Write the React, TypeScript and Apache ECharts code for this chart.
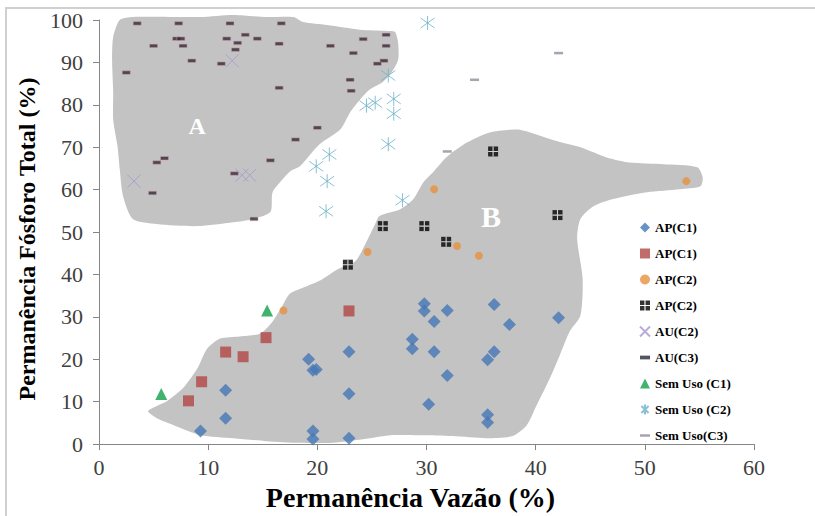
import React, { useEffect, useRef } from "react";
import * as echarts from "echarts";

// ---- data (x = Permanência Vazão %, y = Permanência Fósforo Total %) ----
const apC1Diamond: number[][] = [
  [9.3, 3.1], [11.6, 6.1], [11.6, 12.7], [19.2, 20.0], [19.6, 17.4], [19.9, 17.6],
  [22.9, 21.8], [22.9, 11.9], [19.6, 3.1], [19.6, 1.2], [22.9, 1.4], [29.8, 33.1],
  [29.8, 31.4], [31.9, 31.5], [30.7, 28.9], [36.2, 32.9], [37.6, 28.2], [42.1, 29.8],
  [28.7, 24.7], [28.7, 22.5], [30.7, 21.8], [36.2, 21.8], [35.6, 19.9], [31.9, 16.2],
  [30.2, 9.4], [35.6, 6.9], [35.6, 5.1],
];
const apC1Square: number[][] = [
  [8.2, 10.2], [9.4, 14.7], [11.6, 21.7], [13.2, 20.6], [15.3, 25.1], [22.9, 31.4],
];
const apC2Circle: number[][] = [
  [16.9, 31.5], [24.6, 45.3], [30.7, 60.1], [32.8, 46.7], [34.8, 44.4], [53.8, 62.0],
];
const apC2Black: number[][] = [
  [36.1, 69.0], [42.0, 54.0], [26.0, 51.4], [29.8, 51.4], [31.8, 47.7], [22.8, 42.3],
];
const auC2: number[][] = [[12.2, 90.4], [3.2, 62.0], [13.1, 63.4], [13.8, 63.4]];
const auC3: number[][] = [
  [3.5, 99.2], [7.3, 99.2], [12.0, 99.2], [16.7, 99.2], [7.1, 95.6], [7.5, 95.6],
  [11.7, 95.6], [13.4, 96.5], [14.5, 95.6], [12.7, 94.6], [16.5, 94.4], [5.0, 93.9],
  [7.7, 93.9], [12.5, 93.0], [8.5, 90.4], [11.2, 89.7], [2.5, 87.6], [16.5, 84.0],
  [18.0, 71.8], [6.0, 67.4], [5.3, 66.4], [15.7, 66.9], [12.4, 63.8], [4.9, 59.2],
  [14.2, 53.1], [21.2, 93.9], [23.3, 92.2], [24.2, 95.5], [26.3, 96.5], [26.3, 93.9],
  [26.1, 90.4], [25.5, 89.7], [23.0, 85.9], [23.1, 83.3], [20.0, 74.6],
];
const semC1: number[][] = [[5.7, 11.8], [15.4, 31.5]];
const semC2: number[][] = [
  [30.1, 99.3], [26.5, 86.9], [27.0, 81.4], [27.0, 77.9], [26.5, 70.7], [27.8, 57.5],
  [24.5, 79.8], [25.3, 80.5], [19.9, 65.5], [21.1, 68.3], [20.9, 62.0], [20.8, 54.9],
];
const semC3: number[][] = [[42.1, 92.2], [34.4, 85.9], [31.9, 69.0]];

// outlines of the shaded groups (data coordinates)
const blobA: number[][] = [
  [1.9, 100.0], [3.1, 100.7], [9.3, 100.7], [12.3, 101.2], [15.4, 100.7], [17.8, 100.7],
  [18.7, 99.5], [20.9, 98.8], [23.9, 97.7], [26.4, 97.4], [27.1, 97.2], [27.4, 94.6],
  [27.4, 90.6], [26.8, 87.6], [26.0, 85.4], [24.8, 83.6], [23.9, 81.2], [23.0, 78.2],
  [22.1, 74.2], [20.2, 70.7], [18.4, 65.5], [17.5, 64.3], [16.8, 62.4], [15.9, 59.4],
  [15.7, 54.7], [14.1, 53.1], [12.3, 52.3], [9.0, 51.4], [5.3, 51.9], [3.1, 53.1],
  [2.2, 58.5], [1.9, 64.8], [1.7, 70.2], [1.3, 76.5], [1.3, 82.9], [1.2, 90.6], [1.3, 96.0],
];
const blobB: number[][] = [
  [4.5, 7.8], [6.2, 10.1], [7.7, 13.2], [9.0, 17.8], [9.9, 22.5], [11.1, 24.9],
  [12.9, 25.4], [14.8, 26.1], [15.9, 28.9], [16.8, 32.6], [17.5, 35.5], [19.1, 37.3],
  [20.2, 38.5], [21.9, 41.3], [23.5, 43.2], [24.4, 47.2], [25.3, 51.9], [25.7, 53.8],
  [27.6, 55.4], [28.8, 57.8], [29.7, 61.7], [30.6, 64.1], [31.9, 67.8], [33.7, 71.1],
  [35.8, 73.5], [38.3, 74.2], [39.5, 73.5], [42.0, 71.4], [44.1, 70.0], [45.3, 68.8],
  [46.5, 67.6], [48.6, 66.4], [51.7, 66.0], [54.8, 65.3], [55.3, 62.9], [55.1, 60.8],
  [53.2, 60.1], [50.2, 59.4], [47.1, 57.8], [45.3, 56.1], [44.1, 53.1], [43.8, 48.4],
  [44.3, 39.0], [44.1, 30.3], [43.1, 26.5], [42.2, 20.9], [41.3, 15.5], [40.1, 9.2],
  [39.2, 4.5], [37.9, 1.9], [35.5, 1.4], [32.4, 1.9], [29.4, 2.1], [26.7, 2.1],
  [24.8, 1.4], [21.4, 0.3], [18.4, 0.3], [15.4, 0.7], [12.3, 1.4], [9.3, 2.1],
  [6.8, 4.5], [5.3, 6.1],
];
const groupNames = ["A", "B"];
const groupLabelAt: number[][] = [[9.0, 75.1], [35.9, 53.7]];

const SERIF = '"Liberation Serif", "DejaVu Serif", serif';

const blackQuad = "path://M0,0h4v4h-4zM5,0h4v4h-4zM0,5h4v4h-4zM5,5h4v4h-4z";
const xPath = "path://M0,0L10,10M10,0L0,10";
const starPath = "path://M0,1L10,11M10,1L0,11M5,-1L5,13";

export default function App() {
  const ref = useRef<HTMLDivElement>(null);
  useEffect(() => {
    if (!ref.current) return;
    const chart = echarts.init(ref.current, undefined, { renderer: "svg" });
    const blobSeries = (pts: number[][]) => ({
      type: "custom",
      silent: true,
      clip: false,
      z: 1,
      data: [[0, 0]],
      renderItem: (_p: any, api: any) => ({
        type: "polygon",
        shape: { points: pts.map((p) => api.coord(p)), smooth: 0.25 },
        style: { fill: "#c3c3c3" },
      }),
    });
    const sc = (name: string, data: number[][], symbol: string, symbolSize: any, itemStyle: any, z = 3) => ({
      type: "scatter",
      name,
      data,
      symbol,
      symbolSize,
      itemStyle,
      z,
      silent: true,
    });
    const option: any = {
      animation: false,
      backgroundColor: "#ffffff",
      grid: { left: 99, right: 61, top: 20, bottom: 70, containLabel: false },
      xAxis: {
        type: "value",
        min: 0,
        max: 60,
        interval: 10,
        name: "Permanência Vazão (%)",
        nameLocation: "middle",
        nameGap: 37,
        nameTextStyle: {
          fontFamily: SERIF, fontWeight: "bold", fontSize: 28, color: "#000",
          padding: [0, 32, 0, 0],
        },
        axisLine: { show: true, onZero: false, lineStyle: { color: "#868686", width: 1 } },
        axisTick: { show: true, inside: false, length: 6, lineStyle: { color: "#868686" } },
        axisLabel: { fontFamily: SERIF, fontSize: 22, color: "#404040", margin: 12 },
        splitLine: { show: false },
      },
      yAxis: {
        type: "value",
        min: 0,
        max: 100,
        interval: 10,
        name: "Permanência Fósforo Total (%)",
        nameLocation: "middle",
        nameGap: 58,
        nameTextStyle: {
          fontFamily: SERIF, fontWeight: "bold", fontSize: 24, color: "#000",
          padding: [0, 14, 0, 0],
        },
        axisLine: { show: true, onZero: false, lineStyle: { color: "#868686", width: 1 } },
        axisTick: { show: true, inside: false, length: 6, lineStyle: { color: "#868686" } },
        axisLabel: { fontFamily: SERIF, fontSize: 22, color: "#404040", margin: 16 },
        splitLine: { show: false },
      },
      legend: {
        orient: "vertical",
        left: 634,
        top: 216,
        itemWidth: 10,
        itemHeight: 10,
        itemGap: 13,
        selectedMode: false,
        textStyle: { fontFamily: SERIF, fontWeight: "bold", fontSize: 13, color: "#000" },
        data: [
          { name: "AP(C1)", icon: "diamond" },
          { name: "AP(C1) ", icon: "rect" },
          { name: "AP(C2)", icon: "circle" },
          { name: "AP(C2) ", icon: blackQuad },
          { name: "AU(C2)" },
          { name: "AU(C3)", icon: "path://M0,0h8v3h-8z", itemStyle: { borderWidth: 0 } },
          { name: "Sem Uso (C1)", icon: "triangle" },
          { name: "Sem Uso (C2)" },
          { name: "Sem Uso(C3)", icon: "path://M0,0h10v2.5h-10z" },
        ],
      },
      graphic: [
        {
          type: "rect",
          silent: true,
          shape: { x: 6, y: 8, width: 840, height: 540 },
          style: { fill: "none", stroke: "#d0d0d0", lineWidth: 2 },
        },
      ],
      series: [
        blobSeries(blobA),
        blobSeries(blobB),
        {
          type: "custom",
          silent: true,
          clip: false,
          z: 2,
          data: groupLabelAt.map((p, i) => [p[0], p[1], i]),
          renderItem: (_p: any, api: any) => {
            const i = api.value(2);
            const c = api.coord([api.value(0), api.value(1)]);
            return {
              type: "text",
              x: c[0],
              y: c[1],
              style: {
                text: groupNames[i],
                fill: "#ffffff",
                fontFamily: SERIF,
                fontWeight: "bold",
                fontSize: i === 0 ? 24 : 30,
                align: "center",
                verticalAlign: "middle",
              },
            };
          },
        },
        sc("AP(C1)", apC1Diamond, "diamond", 13, { color: "#4677b6" }),
        sc("AP(C1) ", apC1Square, "rect", 11, { color: "#b24745" }),
        sc("AP(C2)", apC2Circle, "circle", 8, { color: "#e8913f" }),
        sc("AP(C2) ", apC2Black, "rect", 10, { color: "#000000" }),
        {
          type: "scatter",
          data: apC2Black,
          symbol: "path://M4,0h1v9h-1zM0,4h9v1h-9z",
          symbolSize: 10,
          itemStyle: { color: "#ffffff" },
          z: 4,
          silent: true,
        },
        sc("AU(C2)", auC2, xPath, 13, { color: "rgba(0,0,0,0)", borderColor: "#a597cc", borderWidth: 1 }),
        sc("AU(C3)", auC3, "rect", [8, 3.5], { color: "#2b2a3a", borderColor: "#d89aa3", borderWidth: 0.6 }),
        sc("Sem Uso (C1)", semC1, "triangle", 12, { color: "#13a04a" }),
        sc("Sem Uso (C2)", semC2, starPath, 14, { color: "rgba(0,0,0,0)", borderColor: "#6ab2c8", borderWidth: 1 }),
        sc("Sem Uso(C3)", semC3, "rect", [9, 2.5], { color: "#968a9c" }),
      ],
    };
    chart.setOption(option);
    return () => chart.dispose();
  }, []);
  return (
    <div
      ref={ref}
      style={{ position: "fixed", left: 0, top: 0, width: 815, height: 516, background: "#fff" }}
    />
  );
}
